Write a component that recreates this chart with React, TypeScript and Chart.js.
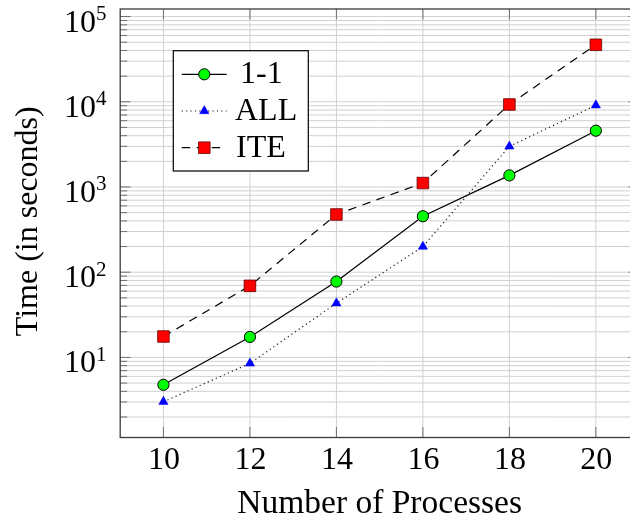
import React, { useEffect, useRef } from 'react';
import { Chart, registerables } from 'chart.js';
Chart.register(...registerables);

// ---- data ----
const processes = [10, 12, 14, 16, 18, 20];
const series11 = [4.77, 17.4, 77.7, 454, 1368, 4580];
const seriesALL = [3.02, 8.51, 43.3, 200, 3000, 9100];
const seriesITE = [17.6, 69.2, 476, 1112, 9300, 46640];
const seriesLabels = ['1-1', 'ALL', 'ITE'];
const xTicks = [10, 12, 14, 16, 18, 20];
const yLabelExponents = [1, 2, 3, 4, 5];
const gridDecades = [1, 10, 100, 1000, 10000, 100000];
const minorMultipliers = [2, 3, 4, 5, 6, 7, 8, 9];
const xTitle = 'Number of Processes';
const yTitle = 'Time (in seconds)';
const xMin = 9;
const xMax = 21;
const yMin = 1.149;
const yMax = 122700;

const FONT = '"Liberation Serif", "DejaVu Serif", serif';

const pgfPlugin = {
  id: 'pgfLook',
  beforeDatasetsDraw(chart: any) {
    const { ctx, chartArea } = chart;
    const { left, right, top, bottom } = chartArea;
    const xs = chart.scales.x;
    const ys = chart.scales.y;
    ctx.save();
    // grid
    ctx.beginPath();
    ctx.rect(left, top, right - left, bottom - top);
    ctx.clip();
    ctx.strokeStyle = '#d0d0d0';
    ctx.lineWidth = 1;
    const yVals: { v: number; major: boolean }[] = [];
    gridDecades.forEach((d) => {
      yVals.push({ v: d, major: true });
      minorMultipliers.forEach((m) => yVals.push({ v: d * m, major: false }));
    });
    yVals.forEach(({ v }) => {
      if (v < yMin || v > yMax) return;
      const py = ys.getPixelForValue(v);
      ctx.beginPath();
      ctx.moveTo(left, py);
      ctx.lineTo(right, py);
      ctx.stroke();
    });
    xTicks.forEach((t) => {
      const px = xs.getPixelForValue(t);
      ctx.beginPath();
      ctx.moveTo(px, top);
      ctx.lineTo(px, bottom);
      ctx.stroke();
    });
    // tick marks (inside)
    ctx.strokeStyle = '#707070';
    ctx.lineWidth = 1;
    yVals.forEach(({ v, major }) => {
      if (v < yMin || v > yMax) return;
      const py = ys.getPixelForValue(v);
      const len = major ? 10.5 : 7;
      ctx.beginPath();
      ctx.moveTo(left, py);
      ctx.lineTo(left + len, py);
      ctx.moveTo(right, py);
      ctx.lineTo(right - len, py);
      ctx.stroke();
    });
    xTicks.forEach((t) => {
      const px = xs.getPixelForValue(t);
      ctx.beginPath();
      ctx.moveTo(px, bottom);
      ctx.lineTo(px, bottom - 10.5);
      ctx.moveTo(px, top);
      ctx.lineTo(px, top + 10.5);
      ctx.stroke();
    });
    ctx.restore();

    // frame
    ctx.save();
    ctx.strokeStyle = '#3a3a3a';
    ctx.lineWidth = 1.3;
    ctx.strokeRect(left, top, right - left, bottom - top);
    ctx.restore();

    // tick labels
    ctx.save();
    ctx.fillStyle = '#000';
    ctx.font = `32px ${FONT}`;
    ctx.textAlign = 'center';
    ctx.textBaseline = 'alphabetic';
    xTicks.forEach((t) => {
      const px = xs.getPixelForValue(t);
      ctx.fillText(String(t), px + 0.5, 469);
    });
    yLabelExponents.forEach((e) => {
      const py = ys.getPixelForValue(Math.pow(10, e));
      ctx.font = `32px ${FONT}`;
      ctx.textAlign = 'right';
      ctx.fillText('10', 96, py + 15);
      ctx.font = `21px ${FONT}`;
      ctx.textAlign = 'left';
      ctx.fillText(String(e), 96, py + 3.5);
    });
    // axis titles
    ctx.font = `33.5px ${FONT}`;
    ctx.textAlign = 'center';
    ctx.fillText(xTitle, (left + right) / 2, 513);
    ctx.font = `32px ${FONT}`;
    ctx.translate(37, (top + bottom) / 2 - 2);
    ctx.rotate(-Math.PI / 2);
    ctx.fillText(yTitle, 0, 0);
    ctx.restore();
  },
  afterDatasetsDraw(chart: any) {
    const { ctx } = chart;
    ctx.save();
    // legend box
    const bx = 173.3, by = 50.7, bw = 135, bh = 120.3;
    ctx.fillStyle = '#fff';
    ctx.fillRect(bx, by, bw, bh);
    ctx.strokeStyle = '#000';
    ctx.lineWidth = 1.2;
    ctx.strokeRect(bx, by, bw, bh);
    const baselines = [83.3, 120, 156.7];
    const textX = [240, 235, 236];
    const datasets = chart.data.datasets;
    seriesLabels.forEach((lab, i) => {
      const ds = datasets[i];
      const cy = baselines[i] - 9;
      const x0 = 181.7, x1 = 226.7, xm = 204.3;
      ctx.save();
      ctx.strokeStyle = ds.borderColor;
      ctx.lineWidth = ds.borderWidth;
      ctx.setLineDash(ds.borderDash || []);
      ctx.beginPath();
      ctx.moveTo(x0, cy);
      ctx.lineTo(x1, cy);
      ctx.stroke();
      ctx.setLineDash([]);
      ctx.fillStyle = ds.pointBackgroundColor;
      ctx.strokeStyle = ds.pointBorderColor;
      ctx.lineWidth = ds.pointBorderWidth;
      const r = ds.pointRadius;
      ctx.beginPath();
      if (ds.pointStyle === 'circle') {
        ctx.arc(xm, cy, r, 0, Math.PI * 2);
      } else if (ds.pointStyle === 'triangle') {
        for (let k = 0; k < 3; k++) {
          const a = (k * 2 * Math.PI) / 3;
          const px = xm + Math.sin(a) * r;
          const py = cy - Math.cos(a) * r;
          if (k === 0) ctx.moveTo(px, py);
          else ctx.lineTo(px, py);
        }
        ctx.closePath();
      } else {
        const s = Math.SQRT1_2 * r;
        ctx.rect(xm - s, cy - s, 2 * s, 2 * s);
      }
      ctx.fill();
      if (ds.pointBorderWidth > 0) ctx.stroke();
      ctx.restore();
      ctx.fillStyle = '#000';
      ctx.font = `32px ${FONT}`;
      ctx.textAlign = 'left';
      ctx.textBaseline = 'alphabetic';
      ctx.fillText(lab, textX[i], baselines[i]);
    });
    ctx.restore();
  },
};

export default function App() {
  const ref = useRef<HTMLCanvasElement | null>(null);
  useEffect(() => {
    if (!ref.current) return;
    const toPts = (ys: number[]) => processes.map((x, i) => ({ x, y: ys[i] }));
    const chart = new Chart(ref.current, {
      type: 'line',
      data: {
        datasets: [
          {
            label: seriesLabels[0],
            data: toPts(series11),
            borderColor: '#000000',
            borderWidth: 1.2,
            borderDash: [],
            pointStyle: 'circle',
            pointRadius: 5.6,
            pointBackgroundColor: '#00ff00',
            pointBorderColor: '#000000',
            pointBorderWidth: 1,
            tension: 0,
            order: 3,
          },
          {
            label: seriesLabels[1],
            data: toPts(seriesALL),
            borderColor: '#1a1a1a',
            borderWidth: 1.2,
            borderDash: [1.2, 3.2],
            pointStyle: 'triangle',
            pointRadius: 5.4,
            pointBackgroundColor: '#0000ff',
            pointBorderColor: '#0000ff',
            pointBorderWidth: 0.5,
            tension: 0,
            order: 2,
          },
          {
            label: seriesLabels[2],
            data: toPts(seriesITE),
            borderColor: '#000000',
            borderWidth: 1.2,
            borderDash: [8.5, 6.5],
            pointStyle: 'rect',
            pointRadius: 8.2,
            pointBackgroundColor: '#ff0000',
            pointBorderColor: '#6a0000',
            pointBorderWidth: 0.8,
            tension: 0,
            order: 1,
          },
        ] as any,
      },
      options: {
        responsive: false,
        devicePixelRatio: 1,
        animation: false,
        layout: { padding: { left: 120.2, top: 6.7, right: 20.9, bottom: 80.5 } },
        plugins: { legend: { display: false }, tooltip: { enabled: false } },
        scales: {
          x: { type: 'linear', min: xMin, max: xMax, display: false },
          y: { type: 'logarithmic', min: yMin, max: yMax, display: false },
        },
      } as any,
      plugins: [pgfPlugin],
    });
    return () => chart.destroy();
  }, []);
  return (
    <div
      style={{
        position: 'fixed',
        left: 0,
        top: 0,
        width: 630,
        height: 518,
        overflow: 'hidden',
        background: '#fff',
      }}
    >
      <canvas ref={ref} width={660} height={518} style={{ display: 'block' }} />
    </div>
  );
}
